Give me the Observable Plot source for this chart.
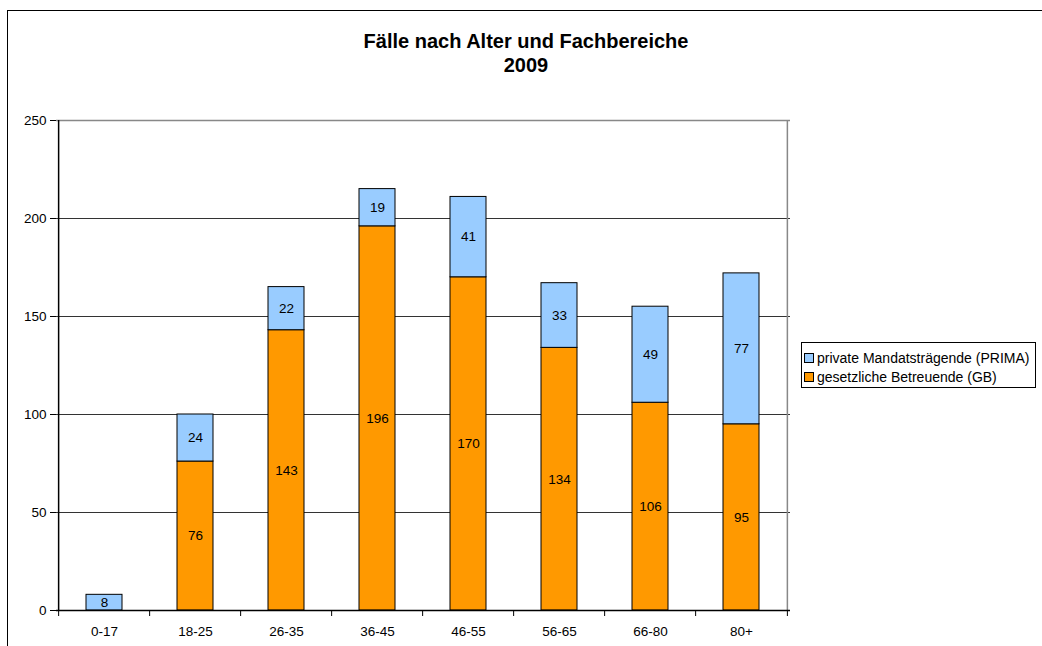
<!DOCTYPE html>
<html>
<head>
<meta charset="utf-8">
<script src="https://cdn.jsdelivr.net/npm/d3@7"></script>
<script src="https://cdn.jsdelivr.net/npm/@observablehq/plot@0.6"></script>
<style>
  html, body { margin: 0; padding: 0; background: #fff; overflow: hidden; }
  body { width: 1042px; height: 646px; position: relative; font-family: "Liberation Sans", Arial, sans-serif; }
  #frame { position: absolute; left: 7px; top: 10px; width: 1100px; height: 700px; border-left: 1.5px solid #000; border-top: 1.5px solid #000; }
  #title { position: absolute; left: 8px; width: 1036px; top: 29px; text-align: center; font-weight: bold; font-size: 20px; line-height: 24px; color: #000; }
  #chart { position: absolute; left: 0; top: 110px; }
  #legend { position: absolute; left: 801px; top: 342px; width: 233px; height: 44px; border: 1px solid #000; background: #fff; font-size: 14px; }
  .item { position: absolute; left: 2px; height: 18px; line-height: 18px; white-space: nowrap; }
  .sw { display: inline-block; width: 8px; height: 8px; border: 1px solid #000; margin-right: 3px; vertical-align: 0px; }
</style>
</head>
<body>
<div id="frame"></div>
<div id="title">Fälle nach Alter und Fachbereiche<br>2009</div>
<div id="chart"></div>
<div id="legend"></div>
<script>
const categories = ["0-17", "18-25", "26-35", "36-45", "46-55", "56-65", "66-80", "80+"];
const gbValues = [0, 76, 143, 196, 170, 134, 106, 95];
const primaValues = [8, 24, 22, 19, 41, 33, 49, 77];
const seriesNames = ["gesetzliche Betreuende (GB)", "private Mandatsträgende (PRIMA)"];
const seriesColors = ["#FF9900", "#99CCFF"];
const yTicks = [0, 50, 100, 150, 200, 250];

const data = [];
categories.forEach((c, i) => {
  data.push({cat: c, series: seriesNames[0], value: gbValues[i]});
  data.push({cat: c, series: seriesNames[1], value: primaValues[i]});
});

const W = 800, H = 540, mL = 56, mR = 10, mT = 10, mB = 40;
const step = (W - mL - mR) / categories.length;

const chart = Plot.plot({
  width: W, height: H,
  marginTop: mT, marginBottom: mB, marginLeft: mL, marginRight: mR,
  style: {fontFamily: "'Liberation Sans', Arial, sans-serif", fontSize: "13.5px", color: "#000", background: "transparent", overflow: "visible"},
  x: {domain: categories, paddingInner: 0.6, paddingOuter: 0.3, axis: null},
  y: {domain: [0, 250], axis: null},
  color: {domain: seriesNames, range: seriesColors},
  marks: [
    Plot.ruleY(yTicks.filter(d => d > 0 && d < 250), {stroke: "#333", strokeWidth: 1}),
    Plot.ruleY([250], {stroke: "#888", strokeWidth: 1.5}),
    Plot.ruleX([categories[categories.length - 1]], {dx: step / 2, y1: 0, y2: 250, stroke: "#888", strokeWidth: 1.5}),
    Plot.barY(data, {x: "cat", y: "value", fill: "series", stroke: "#000", strokeWidth: 1}),
    Plot.text(data.filter(d => d.value > 0), Plot.stackY({x: "cat", y: "value", z: "series", text: d => String(d.value), fill: "#000"})),
    Plot.ruleX([categories[0]], {dx: -step / 2, y1: 0, y2: 250, stroke: "#000", strokeWidth: 1.5}),
    Plot.ruleY([0], {stroke: "#000", strokeWidth: 1.5}),
    Plot.ruleX(categories, {dx: -step / 2, y1: 0, y2: 0, insetBottom: -6, stroke: "#000"}),
    Plot.ruleX([categories[categories.length - 1]], {dx: step / 2, y1: 0, y2: 0, insetBottom: -6, stroke: "#000"}),
    Plot.axisY({ticks: yTicks, tickSize: 6, tickPadding: 4, stroke: "#000", label: null}),
    Plot.axisX({tickSize: 0, tickPadding: 16, label: null})
  ]
});
document.getElementById("chart").appendChild(chart);

const legend = document.getElementById("legend");
[[1, 6], [0, 25]].forEach(([si, top]) => {
  const item = document.createElement("div");
  item.className = "item";
  item.style.top = top + "px";
  const sw = document.createElement("span");
  sw.className = "sw";
  sw.style.background = seriesColors[si];
  item.appendChild(sw);
  item.appendChild(document.createTextNode(seriesNames[si]));
  legend.appendChild(item);
});
</script>
</body>
</html>
